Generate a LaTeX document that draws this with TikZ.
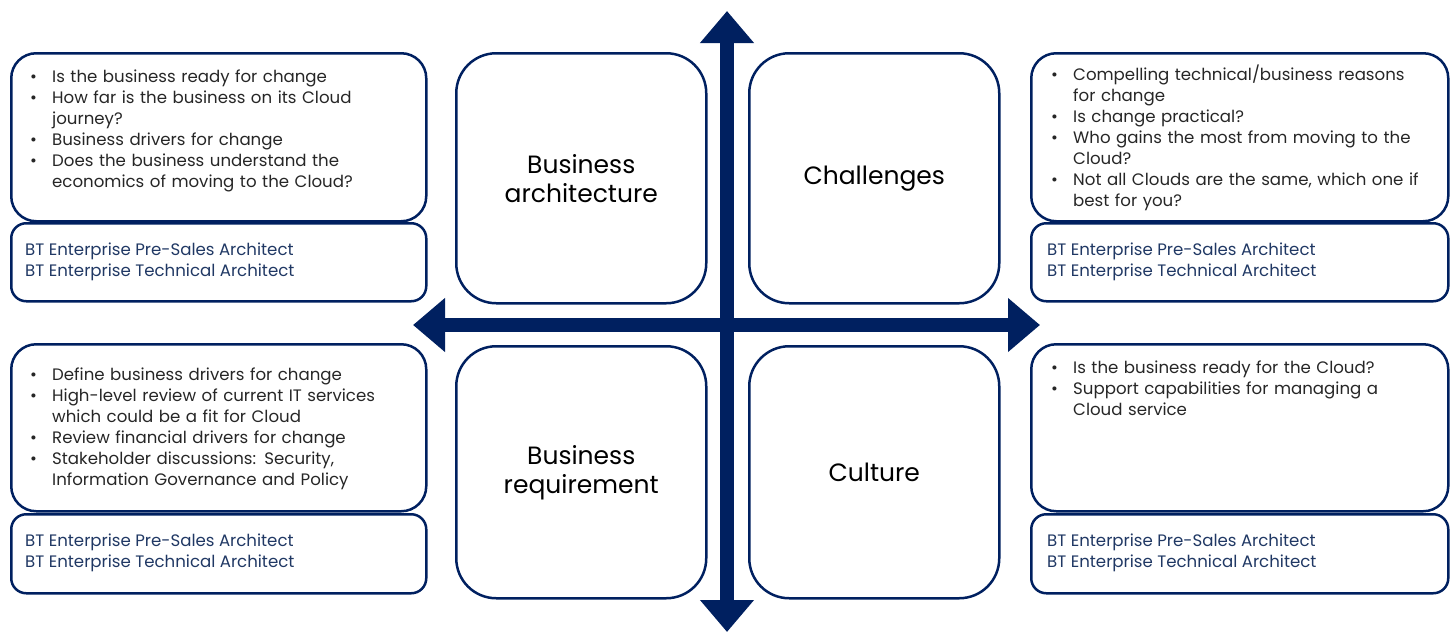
\documentclass[tikz,border=0pt]{standalone}
\usepackage{fontspec}
\setmainfont{Poppins}
\usetikzlibrary{arrows.meta,positioning}

\definecolor{navy}{HTML}{002060}
\definecolor{rolecol}{HTML}{203864}
\definecolor{bodycol}{HTML}{262626}

\newcommand{\bitem}[1]{\hangindent=22pt\hangafter=1\noindent\makebox[22pt][l]{\textbullet}#1\par}

\tikzset{
	infobox/.style = {draw = navy, line width = 2.5pt, rounded corners = 25pt,
					  inner sep = 0pt, anchor = north west},
	rolebox/.style = {draw = navy, line width = 2.5pt, rounded corners = 15pt,
					  inner sep = 0pt, anchor = north west},
	topicbox/.style = {draw = navy, line width = 2.5pt, rounded corners = 40pt,
					  inner sep = 0pt, anchor = north west,
					  align = center, text = black,
					  font = \fontsize{25}{29}\selectfont},
	listtext/.style = {inner sep = 0pt, anchor = north west, text = bodycol,
					  text width = 400pt, align = left,
					  font = \fontsize{16.6}{21}\selectfont},
	roletext/.style = {inner sep = 0pt, anchor = north west, text = rolecol,
					  align = left, font = \fontsize{16.6}{21}\selectfont},
	bigarrow/.style = {draw = navy, line width = 14pt,
					  {Triangle[width = 52pt, length = 32pt]}-{Triangle[width = 52pt, length = 32pt]}}
}

\begin{document}
\begin{tikzpicture}[x = 1pt, y = -1pt]
	\useasboundingbox (0, 0) rectangle (1453, 632);

	% outer boxes
	\node[infobox, minimum width = 415pt, minimum height = 168pt] (infoTL) at (10, 52) {};
	\node[rolebox, minimum width = 415pt, minimum height = 78pt] (roleTL) at (10, 222) {};
	\node[infobox, minimum width = 417pt, minimum height = 168pt] (infoTR) at (1030, 52) {};
	\node[rolebox, minimum width = 417pt, minimum height = 78pt] (roleTR) at (1030, 222) {};
	\node[infobox, minimum width = 415pt, minimum height = 167pt] (infoBL) at (10, 343) {};
	\node[rolebox, minimum width = 415pt, minimum height = 79pt] (roleBL) at (10, 513) {};
	\node[infobox, minimum width = 417pt, minimum height = 167pt] (infoBR) at (1030, 343) {};
	\node[rolebox, minimum width = 417pt, minimum height = 79pt] (roleBR) at (1030, 513) {};

	% quadrant boxes
	\node[topicbox, minimum width = 250pt, minimum height = 250pt] (arch) at (455, 52)
		{Business\\architecture};
	\node[topicbox, minimum width = 250pt, minimum height = 250pt] (chall) at (748, 52)
		{Challenges};
	\node[topicbox, minimum width = 250pt, minimum height = 252pt] (req) at (455, 345)
		{Business\\requirement};
	\node[topicbox, minimum width = 250pt, minimum height = 252pt] (cult) at (748, 345)
		{Culture};

	% lists
	\node[listtext] (listTL) at (30, 70) {%
		\bitem{Is the business ready for change}
		\bitem{How far is the business on its Cloud\newline journey?}
		\bitem{Business drivers for change}
		\bitem{Does the business understand the\newline economics of moving to the Cloud?}};
	\node[listtext] (listTR) at (1051, 65) {%
		\bitem{Compelling technical/business reasons\newline for change}
		\bitem{Is change practical?}
		\bitem{Who gains the most from moving to the\newline Cloud?}
		\bitem{Not all Clouds are the same, which one if\newline best for you?}};
	\node[listtext] (listBL) at (30, 368) {%
		\bitem{Define business drivers for change}
		\bitem{High-level review of current IT services\newline which could be a fit for Cloud}
		\bitem{Review financial drivers for change}
		\bitem{Stakeholder discussions: Security,\newline Information Governance and Policy}};
	\node[listtext] (listBR) at (1051, 361) {%
		\bitem{Is the business ready for the Cloud?}
		\bitem{Support capabilities for managing a\newline Cloud service}};

	% roles
	\node[roletext] (rolesTL) at (25, 243) {BT Enterprise Pre-Sales Architect\\BT Enterprise Technical Architect};
	\node[roletext] (rolesTR) at (1047, 243) {BT Enterprise Pre-Sales Architect\\BT Enterprise Technical Architect};
	\node[roletext] (rolesBL) at (25, 534) {BT Enterprise Pre-Sales Architect\\BT Enterprise Technical Architect};
	\node[roletext] (rolesBR) at (1047, 534) {BT Enterprise Pre-Sales Architect\\BT Enterprise Technical Architect};

	% axes
	\coordinate (up) at (727, 11);
	\coordinate (down) at (727, 632);
	\coordinate (left) at (413, 325);
	\coordinate (right) at (1040, 325);
	\draw[bigarrow] (left) -- (right);
	\draw[bigarrow] (down) -- (up);
\end{tikzpicture}
\end{document}
